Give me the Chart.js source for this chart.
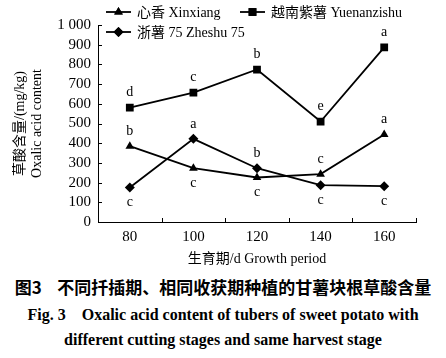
<!DOCTYPE html>
<html>
<head>
<meta charset="utf-8">
<script src="https://cdn.jsdelivr.net/npm/chart.js@4/dist/chart.umd.min.js"></script>
<style>
  html, body { margin: 0; padding: 0; background: #fff; }
  #wrap { position: relative; width: 446px; height: 358px; }
  #box { position: absolute; left: 0; top: 0; width: 446px; height: 272px; }
  .cap { position: absolute; left: 0; width: 446px; text-align: center; color: #000; white-space: pre; }
  #cap1 { top: 274px; font: bold 17px "Noto Sans CJK SC", sans-serif; }
  #cap2 { top: 306px; font: bold 16px "Liberation Serif", serif; }
  #cap3 { top: 331px; font: bold 16px "Liberation Serif", serif; }
</style>
</head>
<body>
<div id="wrap">
  <div id="box"><canvas id="myChart"></canvas></div>
  <div class="cap" id="cap1">图3    不同扦插期、相同收获期种植的甘薯块根草酸含量</div>
  <div class="cap" id="cap2">Fig. 3    Oxalic acid content of tubers of sweet potato with</div>
  <div class="cap" id="cap3">different cutting stages and same harvest stage</div>
</div>
<script>
// 생육기간 (d)
const periods = ['80', '100', '120', '140', '160'];

const seriesNames = ['心香 Xinxiang', '越南紫薯 Yuenanzishu', '浙薯 75 Zheshu 75'];

const xinxiang = [385, 273, 226, 243, 444];
const yuenanzishu = [581, 657, 774, 510, 886];
const zheshu = [175, 422, 273, 187, 182];

// 유의성 문자 + 위치 (up / down)
const xinxiangLetters = ['b', 'c', 'c', 'c', 'a'];
const xinxiangSide = ['up', 'down', 'down', 'up', 'up'];
const yuenanLetters = ['d', 'c', 'b', 'e', 'a'];
const yuenanSide = ['up', 'up', 'up', 'up', 'up'];
const zheshuLetters = ['c', 'a', 'b', 'c', 'c'];
const zheshuSide = ['down', 'up', 'up', 'down', 'down'];

const yTicks = [0, 100, 200, 300, 400, 500, 600, 700, 800, 900, 1000];

const SERIF = '"Liberation Serif", "Noto Sans CJK SC", serif';

const letterPlugin = {
    id: 'letters',
    afterDatasetsDraw(chart) {
        const ctx = chart.ctx;
        ctx.save();
        ctx.fillStyle = '#000';
        ctx.font = '14px ' + SERIF;
        ctx.textAlign = 'center';
        ctx.textBaseline = 'middle';
        chart.data.datasets.forEach((ds, i) => {
            const meta = chart.getDatasetMeta(i);
            meta.data.forEach((pt, j) => {
                const dy = ds.sides[j] == 'up' ? -15 : 15;
                ctx.fillText(ds.letters[j], pt.x, pt.y + dy);
            });
        });
        ctx.restore();
    }
};

// 안쪽 눈금 + 범례
const axisPlugin = {
    id: 'axisTicks',
    afterDraw(chart) {
        const ctx = chart.ctx;
        const a = chart.chartArea;
        const ys = chart.scales.y;
        ctx.save();
        ctx.strokeStyle = '#000';
        ctx.lineWidth = 1;
        ctx.beginPath();
        yTicks.forEach(v => {
            const y = Math.round(ys.getPixelForValue(v)) + 0.5;
            ctx.moveTo(a.left, y);
            ctx.lineTo(a.left + 4, y);
        });
        const step = (a.right - a.left) / periods.length;
        for (let i = 1; i <= periods.length; i++) {
            const x = Math.round(a.left + step * i) + 0.5;
            ctx.moveTo(x, a.bottom);
            ctx.lineTo(x, a.bottom - 4);
        }
        ctx.stroke();

        // legend
        const spots = [[106, 12], [240, 12], [106, 32]];
        ctx.font = '14px ' + SERIF;
        ctx.textBaseline = 'middle';
        ctx.textAlign = 'left';
        chart.data.datasets.forEach((ds, i) => {
            const [x, y] = spots[i];
            ctx.lineWidth = 1.8;
            ctx.beginPath();
            ctx.moveTo(x, y);
            ctx.lineTo(x + 25, y);
            ctx.stroke();
            Chart.helpers.drawPoint(ctx, {pointStyle: ds.pointStyle, radius: ds.pointRadius, borderWidth: 0}, x + 12.5, y);
            ctx.fillStyle = '#000';
            ctx.fill();
            ctx.fillText(ds.label, x + 31, y + 1);
        });
        ctx.restore();
    }
};

function makeSet(name, data, letters, sides, style, r) {
    return {
        label: name,
        data: data,
        letters: letters,
        sides: sides,
        borderColor: '#000',
        backgroundColor: '#000',
        borderWidth: 1.8,
        pointStyle: style,
        pointRadius: r,
        pointBorderWidth: 0,
        pointBackgroundColor: '#000',
        tension: 0,
    };
}

const ctx = document.getElementById('myChart').getContext('2d');
const chart = new Chart(ctx, {
    type: 'line',
    data: {
        labels: periods,
        datasets: [
            makeSet(seriesNames[0], xinxiang, xinxiangLetters, xinxiangSide, 'triangle', 5),
            makeSet(seriesNames[1], yuenanzishu, yuenanLetters, yuenanSide, 'rect', 5.5),
            makeSet(seriesNames[2], zheshu, zheshuLetters, zheshuSide, 'rectRot', 5),
        ],
    },
    options: {
        responsive: true,
        maintainAspectRatio: false,
        animation: false,
        layout: { padding: { left: 0, right: 30, top: 25, bottom: 0 } },
        plugins: { legend: { display: false }, tooltip: { enabled: false } },
        scales: {
            x: {
                type: 'category',
                offset: true,
                grid: { display: false, drawTicks: false, tickLength: 0 },
                border: { display: true, color: '#000', width: 1 },
                ticks: { color: '#000', padding: 6, font: { family: SERIF, size: 15 } },
                title: {
                    display: true,
                    text: '生育期/d Growth period',
                    color: '#000',
                    font: { family: SERIF, size: 14 },
                    padding: { top: 4, bottom: 4 },
                },
                afterFit(scale) { scale.height = 50; },
            },
            y: {
                min: 0,
                max: 1000,
                grid: { display: false, drawTicks: false, tickLength: 0 },
                border: { display: true, color: '#000', width: 1 },
                ticks: {
                    stepSize: 100,
                    autoSkip: false,
                    color: '#000',
                    padding: 7,
                    font: { family: SERIF, size: 15 },
                    callback: v => v >= 1000 ? '1 000' : String(v),
                },
                title: {
                    display: true,
                    text: ['草酸含量/(mg/kg)', 'Oxalic acid content'],
                    color: '#000',
                    font: { family: SERIF, size: 14 },
                    padding: { top: 12, bottom: 0 },
                },
                afterFit(scale) { scale.width = 98; },
            },
        },
    },
    plugins: [letterPlugin, axisPlugin],
});
</script>
</body>
</html>
